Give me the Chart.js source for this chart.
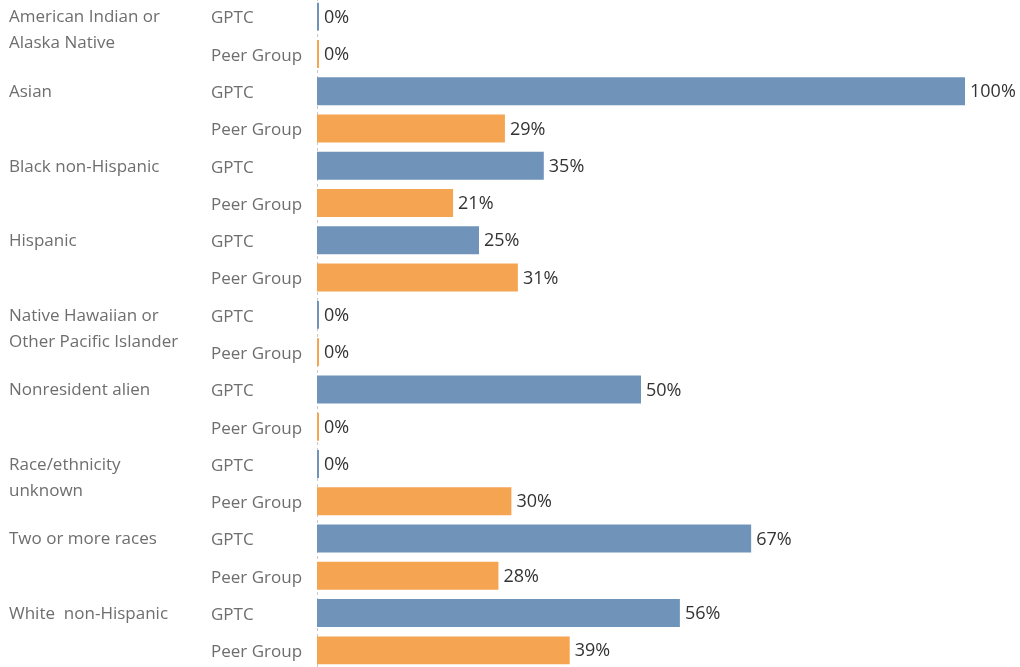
<!DOCTYPE html>
<html>
<head>
<meta charset="utf-8">
<script src="https://cdn.jsdelivr.net/npm/chart.js@4"></script>
<style>
  html, body { margin: 0; padding: 0; background: #fff; overflow: hidden; }
  #wrap { position: absolute; left: 0; top: -2px; width: 1020px; height: 671px; }
</style>
</head>
<body>
<div id="wrap"><canvas id="raceChart"></canvas></div>
<script>
// race / ethnicity groups, each with two rows
var groups = [
    ['American Indian or', 'Alaska Native'],
    ['Asian'],
    ['Black non-Hispanic'],
    ['Hispanic'],
    ['Native Hawaiian or', 'Other Pacific Islander'],
    ['Nonresident alien'],
    ['Race/ethnicity', 'unknown'],
    ['Two or more races'],
    ['White  non-Hispanic']
];
var seriesNames = ['GPTC', 'Peer Group'];
var gptcValues = [0, 100, 35, 25, 0, 50, 0, 67, 56];
var peerValues = [0, 29, 21, 31, 0, 0, 30, 28, 39];

var blue = '#7094b9';
var orange = '#f5a552';
var fontFamily = '"Open Sans", sans-serif';

var rowLabels = [], values = [], colors = [];
groups.forEach(function(g, i) {
    rowLabels.push(i + '|GPTC');
    values.push(gptcValues[i]);
    colors.push(blue);
    rowLabels.push(i + '|Peer Group');
    values.push(peerValues[i]);
    colors.push(orange);
});

var labelPlugin = {
    id: 'labelPlugin',
    beforeDatasetsDraw: function(chart) {
        var ctx = chart.ctx, area = chart.chartArea;
        ctx.save();
        ctx.strokeStyle = '#c8c8c8';
        ctx.lineWidth = 1;
        ctx.setLineDash([3, 3]);
        ctx.beginPath();
        ctx.moveTo(area.left + 0.5, 0);
        ctx.lineTo(area.left + 0.5, chart.height);
        ctx.stroke();
        ctx.restore();
    },
    afterDatasetsDraw: function(chart) {
        var ctx = chart.ctx;
        var yScale = chart.scales.y;
        var meta = chart.getDatasetMeta(0);
        ctx.save();
        ctx.font = '17px ' + fontFamily;
        ctx.textBaseline = 'middle';
        ctx.textAlign = 'left';
        // group labels
        ctx.fillStyle = '#6e6e6e';
        groups.forEach(function(g, i) {
            var y = yScale.getPixelForValue(i * 2);
            g.forEach(function(line, j) {
                ctx.fillText(line, 9, y + 1 + j * 26);
            });
        });
        // series labels
        rowLabels.forEach(function(lbl, k) {
            var y = yScale.getPixelForValue(k);
            ctx.fillText(seriesNames[k % 2], 211, y + 2);
        });
        // value labels
        ctx.font = '18px ' + fontFamily;
        ctx.fillStyle = '#333333';
        meta.data.forEach(function(bar, k) {
            var x = Math.max(bar.x, bar.base + 2);
            ctx.fillText(values[k] + '%', x + 5, bar.y + 1);
        });
        ctx.restore();
    }
};

new Chart(document.getElementById('raceChart').getContext('2d'), {
    type: 'bar',
    data: {
        labels: rowLabels,
        datasets: [{
            data: values,
            backgroundColor: colors,
            borderWidth: 0,
            minBarLength: 2,
            barPercentage: 0.75,
            categoryPercentage: 1
        }]
    },
    options: {
        indexAxis: 'y',
        responsive: true,
        maintainAspectRatio: false,
        animation: false,
        layout: { padding: { left: 317, right: 55, top: 0, bottom: 0 } },
        scales: {
            x: { display: false, min: 0, max: 100 },
            y: { display: false }
        },
        plugins: {
            legend: { display: false },
            tooltip: { enabled: false }
        }
    },
    plugins: [labelPlugin]
});
</script>
</body>
</html>
